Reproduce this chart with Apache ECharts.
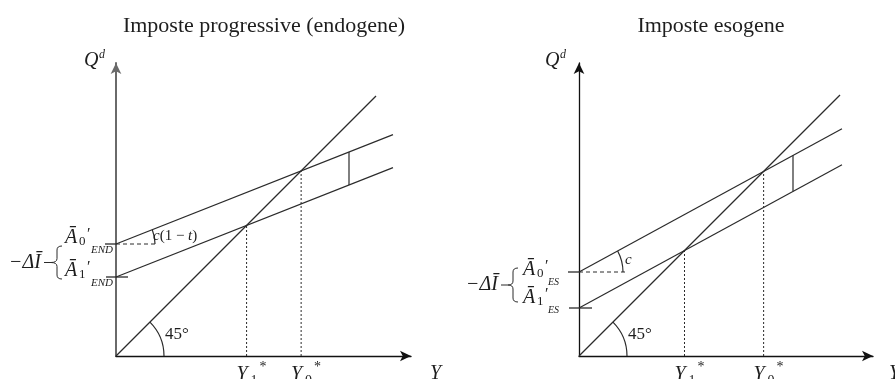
<!DOCTYPE html>
<html>
<head>
<meta charset="utf-8">
<script src="https://cdn.jsdelivr.net/npm/echarts@6/dist/echarts.min.js"></script>
<style>
  html, body { margin: 0; padding: 0; background: #fff; }
  #chart { width: 895px; height: 379px; }
</style>
</head>
<body>
<div id="chart"></div>
<script>
// Keynesian cross: effect of a fall in investment with progressive vs lump-sum taxes
const panelTitles = ['Imposte progressive (endogene)', 'Imposte esogene'];
const subscriptTags = ['END', 'ES'];
const axisMaxX = [295, 294];
const axisMaxY = [293, 293];

// Progressive taxes: autonomous demand Ā0', Ā1' and slope c(1−t)
const endoIntercepts = [112, 79];
const endoSlope = 0.395;
const endoLineEndX = 277;
const endoGapX = 233;
const endoDiagEndX = 260;
const endoDashLen = 41;

// Lump-sum taxes: autonomous demand Ā0', Ā1' and slope c
const exoIntercepts = [84, 48];
const exoSlope = 0.545;
const exoLineEndX = 263;
const exoGapX = 214;
const exoDiagEndX = 261;
const exoDashLen = 46;

const INK = '#2b2b2b';
const MATH = '"Liberation Serif", "DejaVu Serif", serif';

const panels = [
  { A: endoIntercepts, s: endoSlope, endX: endoLineEndX, gapX: endoGapX, diagX: endoDiagEndX, dash: endoDashLen },
  { A: exoIntercepts, s: exoSlope, endX: exoLineEndX, gapX: exoGapX, diagX: exoDiagEndX, dash: exoDashLen }
];
// equilibrium output where each demand line meets the 45° line
panels.forEach(p => { p.Y = p.A.map(a => a / (1 - p.s)); });

function seg(idx, data, style) {
  return {
    type: 'line', xAxisIndex: idx, yAxisIndex: idx, data: data,
    symbol: 'none', silent: true, animation: false, clip: false,
    lineStyle: Object.assign({ color: INK, width: 1.2 }, style)
  };
}

function txt(p, dx, dy, text, size, italic, align, rich) {
  const st = {
    text: text, font: (italic ? 'italic ' : '') + size + 'px ' + MATH,
    fill: '#1e1e1e', align: align || 'left', verticalAlign: 'middle'
  };
  if (rich) st.rich = rich;
  return { type: 'text', x: p[0] + dx, y: p[1] + dy, style: st };
}

function brace(L, M, R, T, B, mid) {
  const r = 4;
  return 'M' + R + ',' + T + ' Q' + M + ',' + T + ' ' + M + ',' + (T + r) +
    ' L' + M + ',' + (mid - r) + ' Q' + M + ',' + mid + ' ' + L + ',' + mid +
    ' Q' + M + ',' + mid + ' ' + M + ',' + (mid + r) +
    ' L' + M + ',' + (B - r) + ' Q' + M + ',' + B + ' ' + R + ',' + B;
}

function annotations(idx) {
  const p = panels[idx];
  const tag = subscriptTags[idx];
  return {
    type: 'custom', xAxisIndex: idx, yAxisIndex: idx, silent: true, animation: false,
    data: [[0, 0]],
    renderItem: function (params, api) {
      const o = api.coord([0, 0]);
      const top = api.coord([0, axisMaxY[idx]]);
      const xEnd = api.coord([axisMaxX[idx], 0]);
      const a0 = api.coord([0, p.A[0]]);
      const a1 = api.coord([0, p.A[1]]);
      const y0 = api.coord([p.Y[0], 0]);
      const y1 = api.coord([p.Y[1], 0]);
      const onLine = api.coord([50, p.A[0] + p.s * 50]);
      const slopeAng = Math.atan2(onLine[1] - a0[1], onLine[0] - a0[0]);
      const kids = [];
      const arcStyle = { stroke: INK, lineWidth: 1.2, fill: null };
      const tickStyle = { stroke: INK, lineWidth: 1.3 };

      // intercept tick marks on the vertical axis
      kids.push({ type: 'line', shape: { x1: a0[0] - 11, y1: a0[1], x2: a0[0], y2: a0[1] }, style: tickStyle });
      kids.push({ type: 'line', shape: { x1: a1[0] - 10, y1: a1[1], x2: a1[0] + (idx === 0 ? 12 : 13), y2: a1[1] }, style: tickStyle });

      // 45° angle arc
      kids.push({ type: 'arc', shape: { cx: o[0], cy: o[1], r: 48, startAngle: -Math.PI / 4, endAngle: 0, clockwise: true }, style: arcStyle });
      // slope angle arc
      const sr = idx === 0 ? 39 : 44;
      kids.push({ type: 'arc', shape: { cx: a0[0], cy: a0[1], r: sr, startAngle: slopeAng, endAngle: 0, clockwise: true }, style: arcStyle });

      // brace for −ΔĪ
      const L = idx === 0 ? 51 : 508;
      const M = idx === 0 ? 57 : 513;
      const R = idx === 0 ? 62 : 518;
      const T = idx === 0 ? a0[1] + 2 : a0[1] - 4;
      const B = idx === 0 ? a1[1] + 2 : a1[1] - 6;
      const mid = (T + B) / 2;
      kids.push({ type: 'path', shape: { pathData: brace(L, M, R, T, B, mid) }, style: { stroke: INK, lineWidth: 1, fill: null } });
      kids.push({ type: 'line', shape: { x1: L - 7, y1: mid, x2: L, y2: mid }, style: { stroke: INK, lineWidth: 1 } });
      kids.push(txt([L - 10, mid], 0, 0, '−ΔĪ', 20, true, 'right'));

      // axis names
      kids.push(txt(top, idx === 0 ? -32 : -34, -2, 'Q', 20, true));
      kids.push(txt(top, idx === 0 ? -17 : -19, -8, 'd', 12, true));
      kids.push(txt(xEnd, idx === 0 ? 19 : 16, 18, 'Y', 20, true));

      // equilibrium labels
      [[y1, '1'], [y0, '0']].forEach(function (e) {
        const dx = -10;
        kids.push(txt(e[0], dx, 19, 'Y', 20, true));
        kids.push(txt(e[0], dx + 14, 25, e[1], 14, false));
        kids.push(txt(e[0], dx + 23, 11, '*', 14, false));
      });

      // 45° and slope labels
      kids.push(txt(o, 49, -21, '45°', 17, false));
      if (idx === 0) {
        kids.push(txt(a0, 37, -8, '{i|c}(1 − {i|t})', 15, false, 'left', { i: { fontStyle: 'italic', fontSize: 15, fontFamily: 'Liberation Serif' } }));
      } else {
        kids.push(txt(a0, 46, -12, 'c', 15, true));
      }

      // intercept labels Ā0', Ā1'
      const rows = idx === 0
        ? [[a0, '0', -51, -6], [a1, '1', -51, -6]]
        : [[a0, '0', -56, -2], [a1, '1', -56, -10]];
      rows.forEach(function (r) {
        const base = r[0], dx = r[2], dy = r[3];
        kids.push(txt(base, dx, dy, 'Ā', 20, true));
        kids.push(txt(base, dx + 14, dy + 4, r[1], 13, false));
        kids.push(txt(base, dx + 22, dy - 3, '′', 16, false));
        kids.push(txt(base, dx + (idx === 0 ? 26 : 25), dy + 12, tag, idx === 0 ? 11 : 10, true));
      });
      return { type: 'group', children: kids };
    }
  };
}

function panelSeries(idx) {
  const p = panels[idx];
  const s = p.s, A = p.A;
  const out = [];
  out.push(seg(idx, [[0, 0], [p.diagX, p.diagX]], {}));
  A.forEach(a => out.push(seg(idx, [[0, a], [p.endX, a + s * p.endX]], {})));
  out.push(seg(idx, [[p.gapX, A[1] + s * p.gapX], [p.gapX, A[0] + s * p.gapX]], {}));
  p.Y.forEach(y => out.push(seg(idx, [[y, 0], [y, y]], { type: [2, 2], width: 1 })));
  out.push(seg(idx, [[0, A[0]], [p.dash, A[0]]], { type: [4, 3], width: 1 }));
  out.push(annotations(idx));
  return out;
}

const gridBoxes = [
  { left: 116, top: 63, width: axisMaxX[0], height: axisMaxY[0] },
  { left: 579, top: 63, width: axisMaxX[1], height: axisMaxY[1] }
];

function axis(idx, max, color, width) {
  return {
    type: 'value', gridIndex: idx, min: 0, max: max,
    axisLine: { show: true, onZero: false, symbol: ['none', 'arrow'], symbolSize: [8, 11], lineStyle: { color: color, width: width } },
    axisTick: { show: false }, axisLabel: { show: false }, splitLine: { show: false }
  };
}

const titleStyle = { fontFamily: 'Liberation Serif', fontWeight: 'normal', fontSize: 22, color: '#1e1e1e' };
const chart = echarts.init(document.getElementById('chart'), null, { renderer: 'canvas' });
chart.setOption({
  backgroundColor: '#fff',
  animation: false,
  title: [
    { text: panelTitles[0], left: 259, top: 10, textAlign: 'center', textStyle: titleStyle },
    { text: panelTitles[1], left: 706, top: 10, textAlign: 'center', textStyle: titleStyle }
  ],
  grid: gridBoxes,
  xAxis: [axis(0, axisMaxX[0], '#111', 1.4), axis(1, axisMaxX[1], '#111', 1.4)],
  yAxis: [axis(0, axisMaxY[0], '#6a6a6a', 2), axis(1, axisMaxY[1], '#111', 1.3)],
  series: panelSeries(0).concat(panelSeries(1))
});
</script>
</body>
</html>
